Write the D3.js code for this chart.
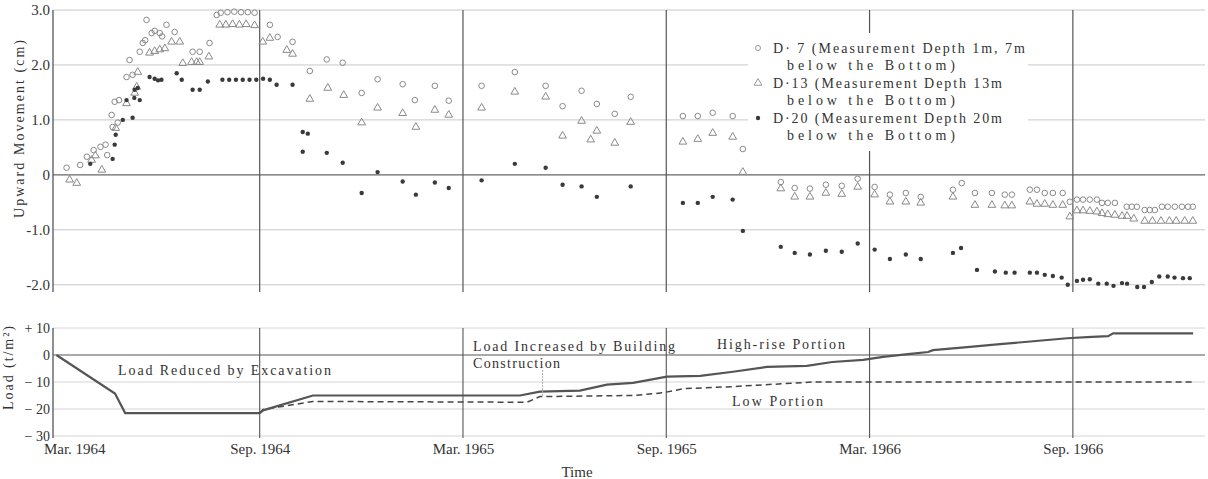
<!DOCTYPE html>
<html><head><meta charset="utf-8">
<script src="https://cdn.jsdelivr.net/npm/d3@7"></script>
<style>
body{margin:0;background:#fff;}
svg text{font-family:"Liberation Serif","DejaVu Serif",serif;fill:#333;}
</style></head>
<body><svg id="c" width="1208" height="479"></svg>
<script>
// ---- data (x in months since Mar. 1964) ----
const monthTicks = [0, 6, 12, 18, 24, 30];
const monthLabels = ["Mar. 1964", "Sep. 1964", "Mar. 1965", "Sep. 1965", "Mar. 1966", "Sep. 1966"];
const topTickValues = [3, 2, 1, 0, -1, -2];
const topTickLabels = ["3.0", "2.0", "1.0", "0", "-1.0", "-2.0"];
const loadTickValues = [10, 0, -10, -20, -30];
const loadTickLabels = ["+ 10", "0", "− 10", "− 20", "− 30"];
const seriesNames = ["D· 7 (Measurement Depth 1m, 7m", "D·13 (Measurement Depth 13m", "D·20 (Measurement Depth 20m"];
const seriesSub = "below the Bottom)";

const d7 = [[0.3,0.13],[0.7,0.18],[0.9,0.33],[1.1,0.45],[1.3,0.51],[1.45,0.55],[1.5,0.36],[1.63,1.09],[1.66,0.87],[1.81,0.95],[1.72,1.33],[1.85,1.36],[2.07,1.78],[2.25,1.82],[2.16,2.09],[2.46,2.24],[2.55,2.4],[2.62,2.45],[2.66,2.82],[2.81,2.58],[2.9,2.62],[3.05,2.58],[3.12,2.52],[3.25,2.73],[3.49,2.6],[4.02,2.24],[4.23,2.24],[4.52,2.4],[4.73,2.91],[4.85,2.95],[5.05,2.96],[5.25,2.97],[5.45,2.96],[5.65,2.96],[5.85,2.95],[6.3,2.73],[6.53,2.51],[6.97,2.42],[7.48,1.89],[7.98,2.1],[8.45,2.04],[9.01,1.49],[9.48,1.74],[10.22,1.65],[10.58,1.36],[11.17,1.62],[11.58,1.35],[12.55,1.62],[13.53,1.87],[14.44,1.62],[14.94,1.25],[15.5,1.53],[15.95,1.29],[16.48,1.11],[16.95,1.42],[18.49,1.07],[18.93,1.07],[19.37,1.13],[19.96,1.07],[20.26,0.47],[21.38,-0.13],[21.79,-0.24],[22.24,-0.25],[22.71,-0.18],[23.18,-0.2],[23.65,-0.07],[24.15,-0.22],[24.6,-0.36],[25.07,-0.33],[25.51,-0.4],[26.46,-0.27],[26.72,-0.15],[27.11,-0.33],[27.61,-0.33],[27.99,-0.36],[28.2,-0.36],[28.73,-0.27],[28.94,-0.27],[29.17,-0.33],[29.41,-0.33],[29.7,-0.33],[29.91,-0.49],[30.12,-0.45],[30.3,-0.45],[30.5,-0.45],[30.71,-0.45],[30.86,-0.51],[31.03,-0.51],[31.24,-0.51],[31.59,-0.58],[31.74,-0.58],[31.89,-0.58],[32.12,-0.64],[32.27,-0.64],[32.42,-0.64],[32.63,-0.58],[32.8,-0.58],[33.01,-0.58],[33.22,-0.58],[33.4,-0.58],[33.54,-0.58]];

const d13 = [[0.39,-0.09],[0.6,-0.15],[1.04,0.27],[1.15,0.35],[1.34,0.09],[1.75,0.85],[2.07,1.3],[2.31,1.49],[2.37,1.6],[2.4,1.87],[2.75,2.22],[2.9,2.25],[3.05,2.28],[3.2,2.3],[3.4,2.42],[3.64,2.42],[3.73,2.03],[3.99,2.05],[4.14,2.05],[4.23,2.05],[4.5,2.15],[4.82,2.73],[5.0,2.73],[5.2,2.74],[5.4,2.73],[5.6,2.74],[5.85,2.72],[6.09,2.42],[6.3,2.49],[6.8,2.27],[6.97,2.2],[7.48,1.38],[8.01,1.58],[8.48,1.45],[9.01,0.95],[9.48,1.22],[10.22,1.12],[10.61,0.87],[11.17,1.18],[11.58,1.09],[12.55,1.22],[13.53,1.51],[14.44,1.42],[14.94,0.71],[15.5,0.98],[15.77,0.64],[15.95,0.8],[16.48,0.58],[16.95,0.96],[18.49,0.6],[18.93,0.65],[19.37,0.76],[19.96,0.69],[20.26,0.05],[21.38,-0.25],[21.79,-0.4],[22.24,-0.4],[22.71,-0.33],[23.18,-0.35],[23.65,-0.22],[24.15,-0.36],[24.6,-0.49],[25.07,-0.49],[25.51,-0.51],[26.46,-0.4],[27.11,-0.55],[27.61,-0.55],[27.99,-0.56],[28.2,-0.56],[28.73,-0.49],[28.94,-0.53],[29.17,-0.53],[29.41,-0.55],[29.7,-0.55],[29.91,-0.76],[30.12,-0.65],[30.3,-0.65],[30.5,-0.66],[30.71,-0.67],[30.86,-0.7],[31.03,-0.72],[31.24,-0.73],[31.45,-0.75],[31.6,-0.75],[31.8,-0.8],[32.12,-0.84],[32.35,-0.84],[32.6,-0.84],[32.85,-0.84],[33.05,-0.84],[33.3,-0.84],[33.54,-0.84]];

const d20 = [[1.0,0.2],[1.66,0.29],[1.72,0.55],[1.75,0.73],[1.96,1.0],[2.25,1.04],[2.07,1.36],[2.3,1.4],[2.46,1.36],[2.31,1.55],[2.4,1.58],[2.75,1.78],[2.9,1.75],[3.0,1.72],[3.1,1.73],[3.55,1.85],[3.7,1.73],[4.02,1.55],[4.23,1.55],[4.47,1.7],[4.9,1.73],[5.1,1.73],[5.3,1.73],[5.5,1.73],[5.7,1.73],[5.9,1.73],[6.1,1.75],[6.3,1.73],[6.5,1.64],[6.97,1.64],[7.27,0.78],[7.42,0.75],[7.27,0.42],[7.98,0.4],[8.45,0.22],[9.01,-0.33],[9.48,0.05],[10.22,-0.12],[10.61,-0.36],[11.17,-0.14],[11.58,-0.24],[12.55,-0.1],[13.53,0.2],[14.44,0.13],[14.94,-0.18],[15.5,-0.21],[15.95,-0.4],[16.95,-0.21],[18.49,-0.51],[18.93,-0.51],[19.37,-0.4],[19.96,-0.45],[20.26,-1.02],[21.38,-1.31],[21.79,-1.42],[22.24,-1.45],[22.71,-1.38],[23.18,-1.4],[23.65,-1.25],[24.15,-1.36],[24.6,-1.53],[25.07,-1.45],[25.51,-1.53],[26.46,-1.42],[26.7,-1.33],[27.17,-1.73],[27.7,-1.76],[28.02,-1.78],[28.28,-1.78],[28.73,-1.78],[28.94,-1.78],[29.17,-1.82],[29.41,-1.84],[29.67,-1.87],[29.85,-2.0],[30.12,-1.93],[30.3,-1.91],[30.5,-1.9],[30.75,-1.98],[31.0,-1.98],[31.2,-2.02],[31.45,-1.97],[31.6,-1.98],[31.9,-2.04],[32.1,-2.04],[32.33,-1.95],[32.55,-1.85],[32.8,-1.85],[33.0,-1.87],[33.25,-1.88],[33.45,-1.88]];

const loadHigh = [[0,0],[1.73,-14.3],[2.03,-21.5],[6.0,-21.5],[6.1,-20.5],[7.57,-15],[13.68,-15],[14.27,-13.6],[15.45,-13.2],[16.25,-11],[17.02,-10.3],[18.02,-8],[19.0,-7.7],[19.97,-6.2],[20.97,-4.4],[22.15,-4],[22.9,-2.6],[23.81,-1.8],[24.4,-0.7],[25.2,0.4],[25.73,1.1],[25.87,1.8],[26.88,2.9],[27.85,4],[28.83,5.1],[29.83,6.2],[30.42,6.6],[31.04,7],[31.19,8],[33.55,8]];
const loadLow = [[6.0,-21.5],[6.1,-20.2],[7.57,-17.2],[13.89,-17.5],[14.27,-15.4],[17.02,-15],[17.9,-14],[18.49,-12.5],[19.97,-11.7],[22.33,-10],[33.55,-10]];

// ---- scales ----
const svg = d3.select("#c");
const x = d3.scaleLinear().domain([-0.1, 33.9]).range([53, 1205]);
const yT = d3.scaleLinear().domain([-2.15, 3.0]).range([293, 10]);
const yB = d3.scaleLinear().domain([-30, 10]).range([436, 328]);

// ---- top panel grid ----
const g = svg.append("g");
g.selectAll("line.hg").data(topTickValues).join("line")
  .attr("x1", x.range()[0]).attr("x2", 1205)
  .attr("y1", d => yT(d)).attr("y2", d => yT(d))
  .attr("stroke", d => d === 0 ? "#666" : "#c8c8c8").attr("stroke-width", d => d === 0 ? 1.3 : 1);
g.selectAll("line.vg").data(monthTicks.slice(1)).join("line")
  .attr("x1", d => x(d)).attr("x2", d => x(d))
  .attr("y1", 10).attr("y2", 292).attr("stroke", "#555").attr("stroke-width", 1.2);
g.append("line").attr("x1", 53).attr("x2", 53).attr("y1", 10).attr("y2", 292).attr("stroke", "#555").attr("stroke-width", 1.3);

// y axis labels (top)
const axT = d3.axisLeft(yT).tickValues(topTickValues).tickSize(0).tickPadding(3)
  .tickFormat((d, i) => topTickLabels[i]);
const axTg = svg.append("g").attr("transform", "translate(53,0)").call(axT);
axTg.select(".domain").remove();
axTg.selectAll("text").style("font-size", "15px").style("font-family", "Liberation Serif").attr("fill", "#333");

svg.append("text").attr("transform", "translate(24,129) rotate(-90)").attr("text-anchor", "middle")
  .style("font-size", "14px").attr("textLength", 178).text("Upward Movement (cm)");

// legend background
svg.append("rect").attr("x", 748).attr("y", 33).attr("width", 280).attr("height", 118).attr("fill", "#fff");

// ---- markers ----
const triPath = d3.symbol().type(d3.symbolTriangle).size(26);
const mk = svg.append("g");
mk.selectAll("circle.d7").data(d7).join("circle")
  .attr("cx", d => x(d[0])).attr("cy", d => yT(d[1])).attr("r", 2.8)
  .attr("fill", "none").attr("stroke", "#8a8a8a").attr("stroke-width", 1);
mk.selectAll("path.d13").data(d13).join("path")
  .attr("d", triPath).attr("transform", d => `translate(${x(d[0])},${yT(d[1])})`)
  .attr("fill", "none").attr("stroke", "#8a8a8a").attr("stroke-width", 1);
mk.selectAll("circle.d20").data(d20).join("circle")
  .attr("cx", d => x(d[0])).attr("cy", d => yT(d[1])).attr("r", 2.2)
  .attr("fill", "#3a3a3a");

// ---- legend ----
const leg = svg.append("g");
const legY = [48, 83, 118];
leg.append("circle").attr("cx", 758).attr("cy", legY[0]).attr("r", 2.5).attr("fill", "none").attr("stroke", "#999");
leg.append("path").attr("d", triPath).attr("transform", `translate(758,${legY[1]})`).attr("fill", "none").attr("stroke", "#999");
leg.append("circle").attr("cx", 758).attr("cy", legY[2]).attr("r", 2.2).attr("fill", "#3a3a3a");
seriesNames.forEach((s, i) => {
  leg.append("text").attr("x", 773).attr("y", legY[i] + 5).style("font-size", "14px")
    .attr("textLength", i === 0 ? 252 : 229).attr("lengthAdjust", "spacing").text(s);
  leg.append("text").attr("x", 787).attr("y", legY[i] + 22).style("font-size", "14px")
    .attr("textLength", 168).attr("lengthAdjust", "spacing").text(seriesSub);
});

// ---- bottom panel ----
const b = svg.append("g");
b.selectAll("line.bh").data(loadTickValues).join("line")
  .attr("x1", 53).attr("x2", 1205).attr("y1", d => yB(d)).attr("y2", d => yB(d))
  .attr("stroke", d => d === 0 ? "#555" : "#d4d4d4").attr("stroke-width", d => d === 0 ? 1.2 : 1);
b.selectAll("line.bv").data(monthTicks.slice(1)).join("line")
  .attr("x1", d => x(d)).attr("x2", d => x(d)).attr("y1", 328).attr("y2", 438)
  .attr("stroke", "#555").attr("stroke-width", 1.1);
b.append("line").attr("x1", 53).attr("x2", 53).attr("y1", 328).attr("y2", 438).attr("stroke", "#555").attr("stroke-width", 1.3);

const axB = d3.axisLeft(yB).tickValues(loadTickValues).tickSize(0).tickPadding(3)
  .tickFormat((d, i) => loadTickLabels[i]);
const axBg = svg.append("g").attr("transform", "translate(53,0)").call(axB);
axBg.select(".domain").remove();
axBg.selectAll("text").style("font-size", "14px").style("font-family", "Liberation Serif").attr("fill", "#333");

svg.append("text").attr("transform", "translate(13,368) rotate(-90)").attr("text-anchor", "middle")
  .style("font-size", "14px").attr("textLength", 84).attr("lengthAdjust", "spacing").text("Load (t/m²)");

const line = d3.line().x(d => x(d[0])).y(d => yB(d[1]));
b.append("path").datum(loadLow).attr("d", line).attr("fill", "none")
  .attr("stroke", "#444").attr("stroke-width", 1.5).attr("stroke-dasharray", "6,4");
b.append("path").datum(loadHigh).attr("d", line).attr("fill", "none")
  .attr("stroke", "#555").attr("stroke-width", 2.2);

// small arrow mark under "Construction"
b.append("line").attr("x1", x(14.35)).attr("x2", x(14.35)).attr("y1", yB(-5.5)).attr("y2", yB(-15.5))
  .attr("stroke", "#aaa").attr("stroke-width", 1).attr("stroke-dasharray", "2,1");

// x axis labels
const axX = d3.axisBottom(x).tickValues(monthTicks).tickSize(0).tickPadding(0)
  .tickFormat((d, i) => monthLabels[i]);
const axXg = svg.append("g").attr("transform", "translate(0,443)").call(axX);
axXg.select(".domain").remove();
axXg.selectAll("text").style("font-size", "15px").style("font-family", "Liberation Serif").attr("fill", "#333");
axXg.selectAll("text").filter((d, i) => i === 0).attr("text-anchor", "start").attr("dx", -13);

svg.append("text").attr("x", 577).attr("y", 477).attr("text-anchor", "middle").style("font-size", "15px").text("Time");

// annotations
const ann = [
  {t: "Load Reduced by Excavation", x: 118, y: 375, w: 213},
  {t: "Load Increased by Building", x: 473, y: 351, w: 202},
  {t: "Construction", x: 473, y: 368, w: 87},
  {t: "High-rise Portion", x: 717, y: 349, w: 128},
  {t: "Low Portion", x: 732, y: 406, w: 91}
];
svg.selectAll("text.ann").data(ann).join("text").attr("class", "ann")
  .attr("x", d => d.x).attr("y", d => d.y).attr("textLength", d => d.w).attr("lengthAdjust", "spacing")
  .style("font-size", "14px").text(d => d.t);
</script></body></html>
